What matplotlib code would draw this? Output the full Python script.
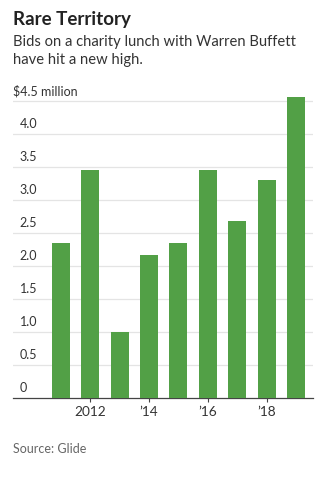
import matplotlib.pyplot as plt

plt.rcParams['font.family'] = ['Lato', 'DejaVu Sans']

years = [2011, 2012, 2013, 2014, 2015, 2016, 2017, 2018, 2019]
bids = [2.35, 3.46, 1.00, 2.17, 2.35, 3.46, 2.68, 3.30, 4.57]  # $ million
tick_years = [2012, 2014, 2016, 2018]
tick_labels = ['2012', '\u201914', '\u201916', '\u201918']
y_ticks = [0, 0.5, 1.0, 1.5, 2.0, 2.5, 3.0, 3.5, 4.0, 4.5]
y_labels = ['0', '0.5', '1.0', '1.5', '2.0', '2.5', '3.0', '3.5', '4.0', '$4.5 million']

W, H = 331, 480
fig = plt.figure(figsize=(W / 100, H / 100), dpi=100)
ax = fig.add_axes([13 / W, 82 / H, 300 / W, (398 - 88) / H])

ax.bar(years, bids, width=0.61, color='#52a046', zorder=3)
ax.set_xlim(2009.37, 2019.58)
ax.set_ylim(0, 4.7)

# horizontal grid with labels sitting on top of each line
for v, lab in zip(y_ticks, y_labels):
    if v > 0:
        ax.axhline(v, color='#e4e4e4', lw=0.9, zorder=1)
    ax.text(0.023 if v < 4.5 else 0.0, v + 0.06, lab, transform=ax.get_yaxis_transform(),
            ha='left', va='bottom', fontsize=9, color='#333333')

for s in ['top', 'right', 'left']:
    ax.spines[s].set_visible(False)
ax.spines['bottom'].set_color('#444444')
ax.spines['bottom'].set_linewidth(0.9)
ax.set_yticks([])
ax.set_xticks(tick_years)
ax.set_xticklabels(tick_labels, fontsize=9.8, color='#333333')
ax.tick_params(axis='x', length=3, width=0.8, color='#444444', pad=3)

fig.text(13 / W, 1 - 25 / H, 'Rare Territory', fontsize=13.5, fontweight='bold',
         color='#222222', ha='left', va='baseline')
fig.text(13 / W, 1 - 46 / H, 'Bids on a charity lunch with Warren Buffett',
         fontsize=10.6, color='#333333', ha='left', va='baseline')
fig.text(13 / W, 1 - 64 / H, 'have hit a new high.',
         fontsize=10.6, color='#333333', ha='left', va='baseline')
fig.text(13 / W, 1 - 453 / H, 'Source: Glide', fontsize=9, color='#666666',
         ha='left', va='baseline')

fig.savefig('out.png', dpi=100)
